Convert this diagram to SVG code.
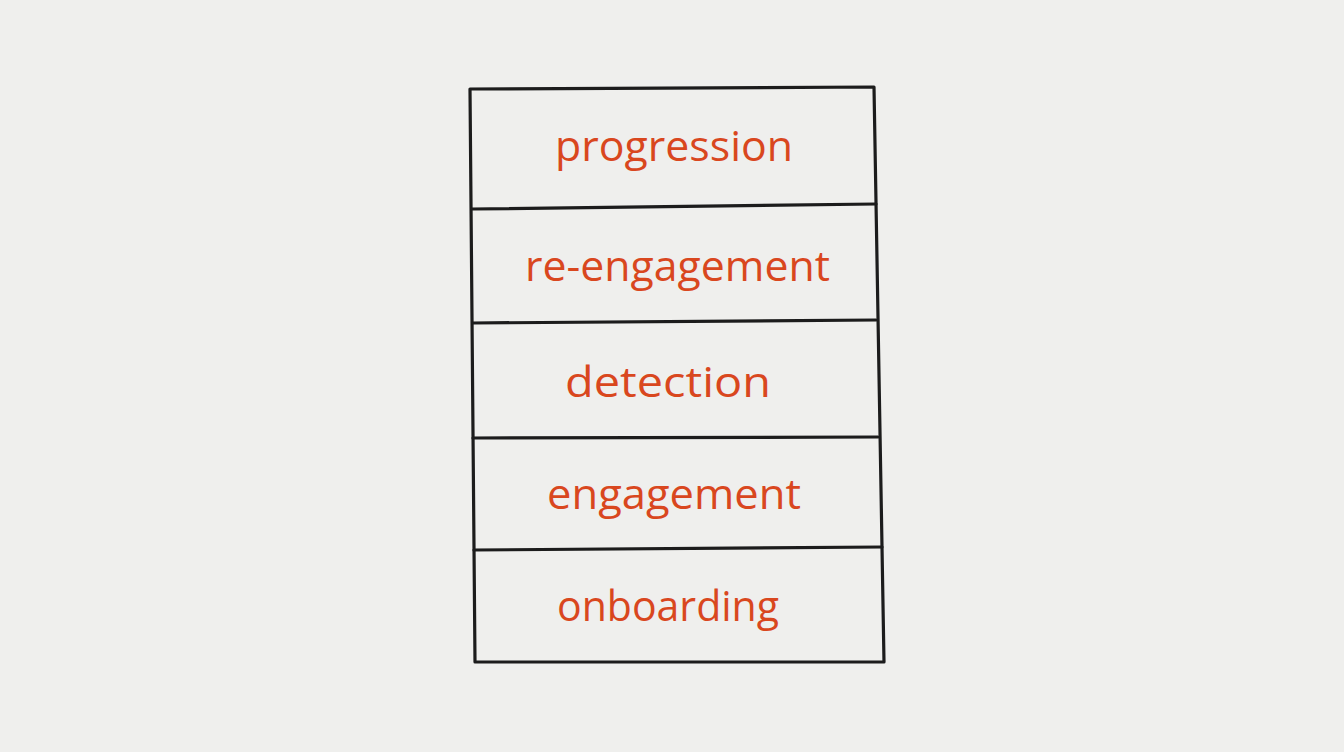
<svg xmlns="http://www.w3.org/2000/svg" width="1344" height="752" viewBox="0 0 1344 752">
<style>
.ln{fill:none;stroke:#1c1c1c;stroke-width:3.2;stroke-linecap:round;stroke-linejoin:round}
.t{font-family:"Open Sans","Liberation Sans",sans-serif;font-size:42px;fill:#d9471e;text-anchor:start}
</style>
<rect width="1344" height="752" fill="#efefed"/>
<g id="frame" class="ln">
<path d="M470,89 L874,87 L884,662 L475,662 Z"/>
</g>
<g id="connectors" class="ln">
<path d="M472,209 L876,204"/>
<path d="M473,323 L876,320"/>
<path d="M473,438 L878,437"/>
<path d="M474,550 L882,547"/>
</g>
<g id="progression"><text class="t" x="555" y="161" textLength="238" lengthAdjust="spacingAndGlyphs">progression</text></g>
<g id="re-engagement"><text class="t" x="525" y="281" textLength="305" lengthAdjust="spacingAndGlyphs">re-engagement</text></g>
<g id="detection"><text class="t" x="565" y="397" textLength="206" lengthAdjust="spacingAndGlyphs">detection</text></g>
<g id="engagement"><text class="t" x="547" y="509" textLength="254" lengthAdjust="spacingAndGlyphs">engagement</text></g>
<g id="onboarding"><text class="t" x="557" y="621" textLength="222" lengthAdjust="spacingAndGlyphs">onboarding</text></g>
</svg>
